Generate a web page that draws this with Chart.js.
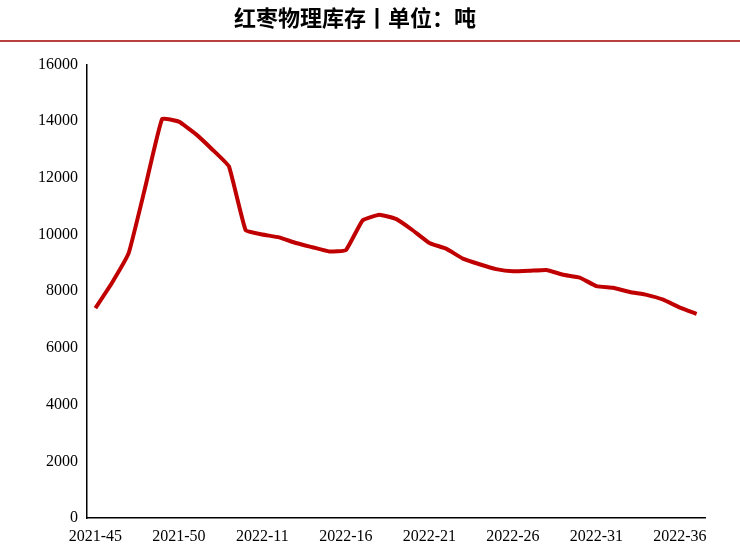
<!DOCTYPE html>
<html><head><meta charset="utf-8">
<script src="https://cdn.jsdelivr.net/npm/chart.js@4/dist/chart.umd.min.js"></script>
<style>body{margin:0;background:#fff}#wrap{width:740px;height:560px;position:relative}</style>
</head><body><div id="wrap"><canvas id="c"></canvas></div>
<script>
const weeks = ['2021-45','2021-46','2021-47','2021-48','2021-49','2021-50','2021-51','2021-52','2022-09','2022-10',
  '2022-11','2022-12','2022-13','2022-14','2022-15','2022-16','2022-17','2022-18','2022-19','2022-20',
  '2022-21','2022-22','2022-23','2022-24','2022-25','2022-26','2022-27','2022-28','2022-29','2022-30',
  '2022-31','2022-32','2022-33','2022-34','2022-35','2022-36','2022-37'];
const stock = [7400,8300,9350,11700,14080,13980,13550,13000,12400,10150,
  10000,9900,9700,9550,9400,9450,10500,10700,10550,10150,
  9700,9500,9150,8950,8780,8700,8720,8750,8580,8480,
  8180,8120,7970,7870,7700,7420,7200];

const titleRule = {
  id: 'titleRule',
  afterDraw(chart) {
    const ctx = chart.ctx;
    ctx.save();
    ctx.strokeStyle = '#a00000'; ctx.lineWidth = 1.5;
    ctx.beginPath(); ctx.moveTo(0, 41); ctx.lineTo(740, 41); ctx.stroke();
    ctx.restore();
  }
};

new Chart(document.getElementById('c'), {
  type: 'line',
  data: { labels: weeks, datasets: [{ data: stock, borderColor: '#c00000', borderWidth: 4, pointRadius: 0, tension: 0.1 }] },
  options: {
    responsive: true, maintainAspectRatio: false, animation: false,
    layout: { padding: { top: 0, right: 35, left: 5, bottom: 0 } },
    plugins: {
      legend: { display: false },
      tooltip: { enabled: false },
      title: { display: true, text: '红枣物理库存丨单位：吨', color: '#000',
        font: { family: '"Noto Sans CJK SC"', size: 22, weight: 'bold' }, padding: { top: 4, bottom: 34 } }
    },
    scales: {
      x: {
        offset: true,
        afterFit: s => { s.height = 42; },
        grid: { display: false, drawTicks: true, tickLength: 6, color: '#000' },
        border: { color: '#000', width: 1.5 },
        ticks: { color: '#000', font: { family: '"Liberation Serif"', size: 16 }, maxRotation: 0, autoSkip: false,
          callback: (v, i) => i % 5 === 0 ? weeks[i] : '' }
      },
      y: {
        min: 0, max: 16000,
        afterFit: s => { s.width = 82; },
        grid: { display: false, drawTicks: true, tickLength: 6, color: '#000' },
        border: { color: '#000', width: 1.5 },
        ticks: { stepSize: 2000, color: '#000', font: { family: '"Liberation Serif"', size: 16 }, callback: v => String(v) }
      }
    }
  },
  plugins: [titleRule]
});
</script></body></html>
